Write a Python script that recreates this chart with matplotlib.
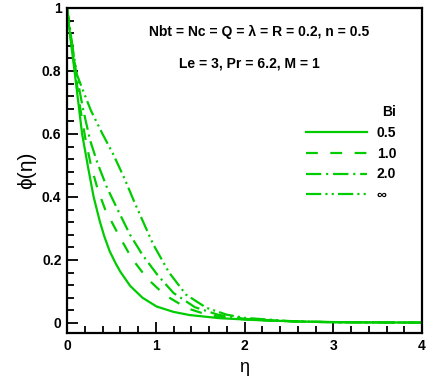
import matplotlib
matplotlib.use("Agg")
import matplotlib.pyplot as plt
from matplotlib.ticker import MultipleLocator

plt.rcParams['font.family'] = ['Liberation Sans', 'DejaVu Sans']
plt.rcParams['lines.scale_dashes'] = False

# Data
eta_05 = [0, 0.04, 0.085, 0.17, 0.24, 0.3, 0.37, 0.42, 0.48, 0.55, 0.6, 0.71, 0.85, 1.01, 1.2, 1.38, 1.72, 2.2, 2.7, 3.2, 4.0]
phi_05 = [1.0, 0.9, 0.8, 0.6, 0.49, 0.4, 0.322, 0.275, 0.228, 0.188, 0.163, 0.118, 0.08, 0.052, 0.035, 0.025, 0.015, 0.008, 0.004, 0.002, 0.001]

eta_10 = [0, 0.045, 0.09, 0.15, 0.21, 0.27, 0.345, 0.43, 0.58, 0.73, 0.9, 1.1, 1.35, 1.6, 2.0, 2.5, 3.0, 4.0]
phi_10 = [1.0, 0.9, 0.8, 0.68, 0.58, 0.5, 0.425, 0.36, 0.28, 0.205, 0.142, 0.089, 0.047, 0.024, 0.011, 0.005, 0.002, 0.001]

eta_20 = [0, 0.05, 0.1, 0.18, 0.26, 0.34, 0.45, 0.57, 0.71, 0.85, 1.02, 1.2, 1.44, 1.7, 2.0, 2.5, 3.0, 4.0]
phi_20 = [1.0, 0.9, 0.8, 0.68, 0.58, 0.51, 0.43, 0.36, 0.28, 0.216, 0.152, 0.095, 0.05, 0.026, 0.013, 0.005, 0.002, 0.001]

eta_inf = [0, 0.055, 0.11, 0.17, 0.27, 0.4, 0.52, 0.65, 0.76, 0.97, 1.15, 1.34, 1.57, 1.8, 2.0, 2.5, 3.0, 4.0]
phi_inf = [1.0, 0.89, 0.79, 0.745, 0.674, 0.6, 0.536, 0.457, 0.383, 0.25, 0.16, 0.09, 0.048, 0.026, 0.016, 0.006, 0.002, 0.001]

labels = ['0.5', '1.0', '2.0', '\u221e']
styles = ['-', (0, (8.5, 9)), (0, (11, 3.5, 1.5, 3.5)), (0, (11, 3, 1.5, 3, 1.5, 3))]
green = '#00cc00'

fig = plt.figure(figsize=(4.36, 3.79), dpi=100)
ax = fig.add_axes([0.1537, 0.1214, 0.968 - 0.1537, 0.9789 - 0.1214])

series = [(eta_05, phi_05), (eta_10, phi_10), (eta_20, phi_20), (eta_inf, phi_inf)]
for (x, y), lab, ls in zip(series, labels, styles):
    ax.plot(x, y, color=green, lw=1.6, linestyle=ls, label=lab)

ax.set_xlim(0, 4)
ax.set_ylim(-0.032, 1.0)
ax.xaxis.set_minor_locator(MultipleLocator(0.2))
ax.yaxis.set_minor_locator(MultipleLocator(0.04))
ax.tick_params(which='both', direction='in', top=False, right=False, width=1.3)
ax.tick_params(which='major', length=8, labelsize=10, pad=4)
ax.tick_params(which='minor', length=5)
ax.set_yticks([0, 0.2, 0.4, 0.6, 0.8, 1.0])
ax.set_yticklabels(['0', '0.2', '0.4', '0.6', '0.8', '1'], fontweight='bold')
ax.set_xticks([0, 1, 2, 3, 4])
ax.set_xticklabels(['0', '1', '2', '3', '4'], fontweight='bold')
for s in ax.spines.values():
    s.set_linewidth(1.6)

ax.set_xlabel('\u03b7', fontsize=13, labelpad=5)
ax.set_ylabel('\u03d5(\u03b7)', fontsize=15, labelpad=4)

ax.text(0.54, 0.925, 'Nbt = Nc = Q = \u03bb = R = 0.2, n = 0.5', transform=ax.transAxes,
        ha='center', va='center', fontsize=10, fontweight='bold')
ax.text(0.515, 0.83, 'Le = 3, Pr = 6.2, M = 1', transform=ax.transAxes,
        ha='center', va='center', fontsize=10, fontweight='bold')

leg = ax.legend(title='Bi', loc='upper left', bbox_to_anchor=(0.672, 0.70), frameon=False,
                handlelength=4.4, handletextpad=0.72, labelspacing=0.48, fontsize=10,
                title_fontsize=10, alignment='right', borderaxespad=0, borderpad=0)
for t in leg.get_texts():
    t.set_fontweight('bold')
leg.get_title().set_fontweight('bold')

fig.savefig('out.png', dpi=100)
